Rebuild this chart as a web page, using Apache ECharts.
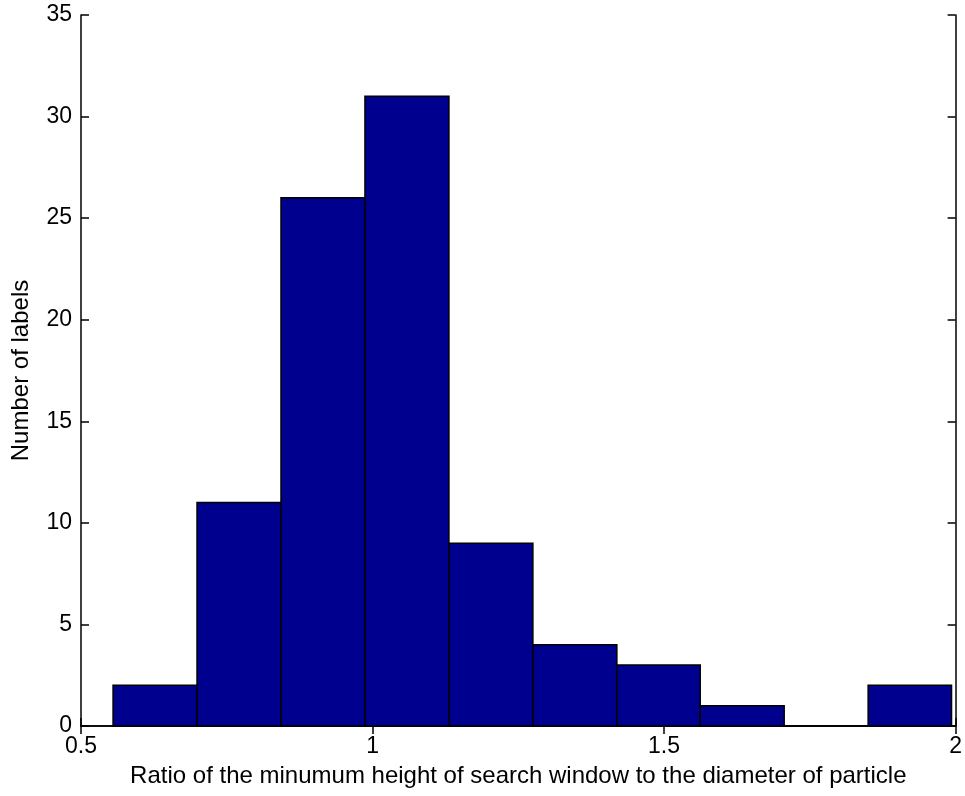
<!DOCTYPE html>
<html>
<head>
<meta charset="utf-8">
<script src="https://cdn.jsdelivr.net/npm/echarts@6/dist/echarts.min.js"></script>
<style>
html,body{margin:0;padding:0;background:#fff;}
#chart{width:965px;height:796px;}
</style>
</head>
<body>
<div id="chart"></div>
<script>
// Histogram bin edges (ratio) and counts
var binEdges = [0.555, 0.699, 0.843, 0.987, 1.131, 1.275, 1.419, 1.562, 1.706, 1.850, 1.993];
var counts = [2, 11, 26, 31, 9, 4, 3, 1, 0, 2];
var xTicks = [0.5, 1, 1.5, 2];
var yTicks = [0, 5, 10, 15, 20, 25, 30, 35];
var xTitle = 'Ratio of the minumum height of search window to the diameter of particle';
var yTitle = 'Number of labels';

var FONT = '"Liberation Sans", Arial, sans-serif';
var data = counts.map(function (c, i) { return [binEdges[i], binEdges[i + 1], c]; });

var chart = echarts.init(document.getElementById('chart'), null, {renderer: 'canvas'});
var axisLine = {show: true, lineStyle: {color: '#000', width: 1.5}};
var tickIn = {show: true, inside: true, length: 8, lineStyle: {color: '#000', width: 1.5}};
var lbl = {color: '#000', fontFamily: FONT, fontSize: 23};
chart.setOption({
  animation: false,
  backgroundColor: '#fff',
  grid: {left: 81, right: 8, top: 15, bottom: 70, containLabel: false},
  xAxis: [{
    type: 'value', min: xTicks[0], max: xTicks[xTicks.length - 1], interval: 0.5,
    position: 'bottom',
    axisLine: axisLine, axisTick: tickIn, splitLine: {show: false},
    axisLabel: Object.assign({margin: 9}, lbl),
    name: xTitle, nameLocation: 'middle', nameGap: 38,
    nameTextStyle: {color: '#000', fontFamily: FONT, fontSize: 24}
  }, {
    type: 'value', min: xTicks[0], max: xTicks[xTicks.length - 1], interval: 0.5,
    position: 'top',
    axisLine: axisLine, axisTick: tickIn, splitLine: {show: false},
    axisLabel: {show: false}
  }],
  yAxis: [{
    type: 'value', min: yTicks[0], max: yTicks[yTicks.length - 1], interval: 5,
    position: 'left',
    axisLine: axisLine, axisTick: tickIn, splitLine: {show: false},
    axisLabel: Object.assign({margin: 9}, lbl),
    name: yTitle, nameLocation: 'middle', nameGap: 48,
    nameTextStyle: {color: '#000', fontFamily: FONT, fontSize: 24}
  }, {
    type: 'value', min: yTicks[0], max: yTicks[yTicks.length - 1], interval: 5,
    position: 'right',
    axisLine: axisLine, axisTick: tickIn, splitLine: {show: false},
    axisLabel: {show: false}
  }],
  series: [{
    type: 'custom',
    xAxisIndex: 0, yAxisIndex: 0,
    renderItem: function (params, api) {
      var p0 = api.coord([api.value(0), api.value(2)]);
      var p1 = api.coord([api.value(1), 0]);
      return {
        type: 'rect',
        shape: {x: p0[0], y: p0[1], width: p1[0] - p0[0], height: p1[1] - p0[1]},
        style: {fill: '#00008F', stroke: '#000', lineWidth: 1.5}
      };
    },
    encode: {x: [0, 1], y: 2},
    data: data,
    z: 1
  }]
});
</script>
</body>
</html>
